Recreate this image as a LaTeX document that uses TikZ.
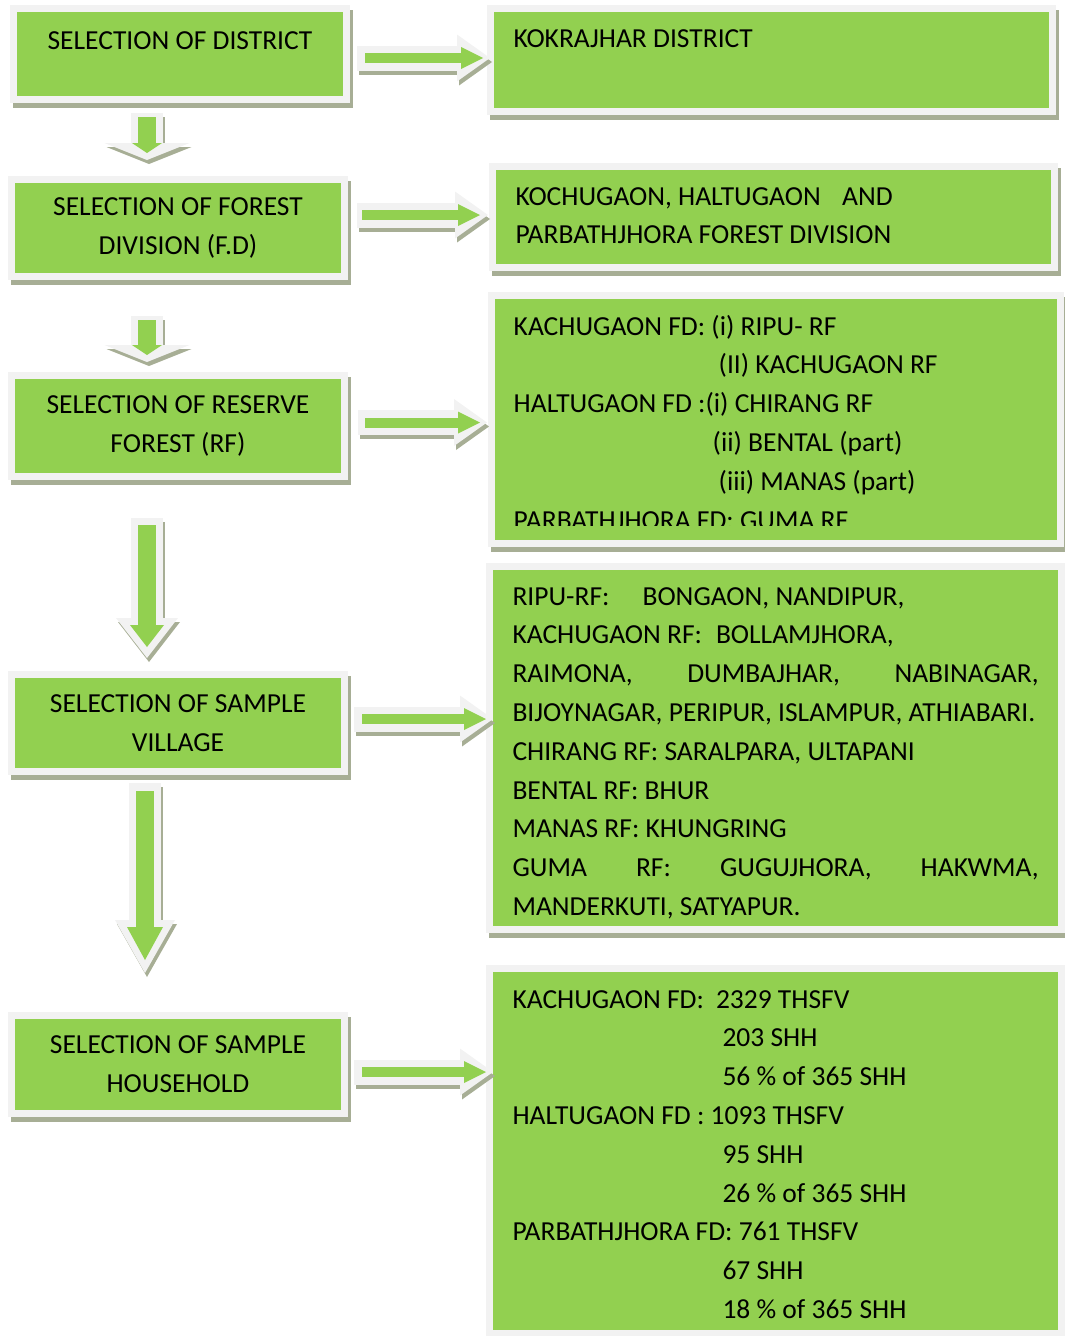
\documentclass[tikz,border=0pt]{standalone}
\usepackage{fontspec}
\setmainfont{Carlito}
\usepackage{tikz}
\usetikzlibrary{arrows.meta,shadows,positioning}
\definecolor{boxgreen}{HTML}{92D050}
\definecolor{framegray}{HTML}{F2F2F2}
\definecolor{shadowgray}{HTML}{A7AE95}
\newcommand{\boxfont}{\fontsize{27.5pt}{38.8pt}\selectfont\frenchspacing}
\newcommand{\blockarrow}[4]{%
  \draw[#1, shadowgray, transform canvas={xshift=2pt, yshift=-4pt}] #3 -- #4;
  \draw[#1, framegray] #3 -- #4;
  \draw[#2, boxgreen] #3 -- #4;}

\begin{document}
\begin{tikzpicture}[x=1pt, y=1pt,
    boxshadow/.style={drop shadow={shadow xshift=3pt, shadow yshift=-5pt, fill=shadowgray, draw=shadowgray, line width=7pt, opacity=1}},
    selbox/.style={rectangle, draw=framegray, line width=7pt, fill=boxgreen, minimum width=333pt, inner sep=0pt, align=center, font=\boxfont, boxshadow},
    resbox/.style={rectangle, draw=framegray, line width=7pt, fill=boxgreen, inner xsep=23pt, inner ysep=0pt, align=flush left, text height=18pt, font=\boxfont, boxshadow},
    hframe/.style={line width=25pt, -{Triangle[line width=0pt, width=47pt, length=33pt]}},
    hgreen/.style={line width=10pt, -{Triangle[line width=0pt, width=22pt, length=22pt]}},
    vframe/.style 2 args={line width=32pt, -{Triangle[line width=0pt, width=#1, length=#2]}},
    vgreen/.style 2 args={line width=18pt, -{Triangle[line width=0pt, width=#1, length=#2]}}]
    \useasboundingbox (0,0) rectangle (1065,-1336);

    \node[selbox, minimum height=91pt, text height=18pt, text depth=28pt] (s1) at (180,-54) {SELECTION OF DISTRICT};
    \node[selbox, minimum height=97pt, node distance=174pt, below of=s1, xshift=-2pt] (s2) {SELECTION OF FOREST\\DIVISION (F.D)};
    \node[selbox, minimum height=101pt, node distance=198pt, below of=s2] (s3) {SELECTION OF RESERVE\\FOREST (RF)};
    \node[selbox, minimum height=97pt, node distance=297pt, below of=s3] (s4) {SELECTION OF SAMPLE\\VILLAGE};
    \node[selbox, minimum height=98pt, node distance=341.5pt, below of=s4] (s5) {SELECTION OF SAMPLE\\HOUSEHOLD};

    \node[resbox, minimum width=562pt, minimum height=103pt, text width=516pt, text depth=44pt, node distance=591.5pt, right of=s1, yshift=-6pt] (k1) {KOKRAJHAR DISTRICT};
    \node[resbox, minimum width=562pt, minimum height=101pt, text width=516pt, text depth=42pt, node distance=595.5pt, right of=s2, yshift=11pt] (k2) {KOCHUGAON, HALTUGAON\hspace{21.5pt}AND\\PARBATHJHORA FOREST DIVISION};
    \node[resbox, minimum width=569.5pt, minimum height=248pt, node distance=597.75pt, right of=s3, yshift=6.5pt] (k3) {};
    \begin{scope}
        \clip (k3.north west) rectangle ([yshift=22pt]k3.south east);
        \node[font=\boxfont, align=flush left, inner sep=0pt, text width=526pt, anchor=base west] (k3t) at ([xshift=26pt, yshift=-43pt]k3.north west) {KACHUGAON FD: (i) RIPU- RF\\
            \hspace*{205pt}(II) KACHUGAON RF\\
            HALTUGAON FD :(i) CHIRANG RF\\
            \hspace*{199pt}(ii) BENTAL (part)\\
            \hspace*{205pt}(iii) MANAS (part)\\
            PARBATHJHORA FD: GUMA RF};
    \end{scope}
    \node[resbox, minimum width=572pt, minimum height=363pt, text width=526pt, text depth=304pt, node distance=597.5pt, right of=s4, yshift=-25pt] (k4) {RIPU-RF:\hspace{33pt}BONGAON, NANDIPUR,\\
        KACHUGAON RF:\hspace{14pt}BOLLAMJHORA,\\
        RAIMONA,\hfill DUMBAJHAR,\hfill NABINAGAR,\\
        \mbox{BIJOYNAGAR, PERIPUR, ISLAMPUR, ATHIABARI.}\\
        CHIRANG RF: SARALPARA, ULTAPANI\\
        BENTAL RF: BHUR\\
        MANAS RF: KHUNGRING\\
        GUMA\hfill RF:\hfill GUGUJHORA,\hfill HAKWMA,\\
        MANDERKUTI, SATYAPUR.};
    \node[resbox, minimum width=572pt, minimum height=365pt, text width=526pt, text depth=304pt, node distance=597.5pt, right of=s5, yshift=-86.5pt] (k5) {KACHUGAON FD:\hspace{12pt}2329 THSFV\\
        \hspace*{210pt}203 SHH\\
        \hspace*{210pt}56 \% of 365 SHH\\
        HALTUGAON FD : 1093 THSFV\\
        \hspace*{210pt}95 SHH\\
        \hspace*{210pt}26 \% of 365 SHH\\
        PARBATHJHORA FD: 761 THSFV\\
        \hspace*{210pt}67 SHH\\
        \hspace*{210pt}18 \% of 365 SHH};

    \blockarrow{hframe, shorten <=7pt, shorten >=-3pt}{hgreen, shorten <=15pt, shorten >=4pt}{([yshift=-4pt]s1.east)}{([yshift=-4pt]s1.east -| k1.west)}
    \blockarrow{hframe, shorten <=9pt, shorten >=1pt}{hgreen, shorten <=14pt, shorten >=9pt}{([yshift=13pt]s2.east)}{([yshift=13pt]s2.east -| k2.west)}
    \blockarrow{hframe, shorten <=10pt, shorten >=0.5pt}{hgreen, shorten <=17pt, shorten >=7.5pt}{([yshift=3.5pt]s3.east)}{([yshift=3.5pt]s3.east -| k3.west)}
    \blockarrow{hframe, shorten <=6pt, shorten >=-7pt}{hgreen, shorten <=14pt, shorten >=0pt}{([yshift=4pt]s4.east)}{([yshift=4pt]s4.east -| k4.west)}
    \blockarrow{hframe, shorten <=6pt, shorten >=-7pt}{hgreen, shorten <=14pt, shorten >=0pt}{([yshift=-7.5pt]s5.east)}{([yshift=-7.5pt]s5.east -| k5.west)}

    \blockarrow{vframe={85pt}{17pt}, shorten <=10pt, shorten >=16pt}{vgreen={30pt}{10pt}, shorten <=14pt, shorten >=23pt}{([xshift=-33pt]s1.south)}{([xshift=-31pt]s2.north)}
    \blockarrow{vframe={85pt}{17pt}, shorten <=36pt, shorten >=10pt}{vgreen={30pt}{10pt}, shorten <=40pt, shorten >=17pt}{([xshift=-31pt]s2.south)}{([xshift=-31pt]s3.north)}
    \blockarrow{vframe={62pt}{40pt}, shorten <=38pt, shorten >=13pt}{vgreen={34pt}{22pt}, shorten <=45pt, shorten >=24pt}{([xshift=-31pt]s3.south)}{([xshift=-31pt]s4.north)}
    \blockarrow{vframe={60pt}{53pt}, shorten <=8pt, shorten >=39pt}{vgreen={36pt}{33pt}, shorten <=16pt, shorten >=52pt}{([xshift=-33pt]s4.south)}{([xshift=-33pt]s5.north)}
\end{tikzpicture}
\end{document}
